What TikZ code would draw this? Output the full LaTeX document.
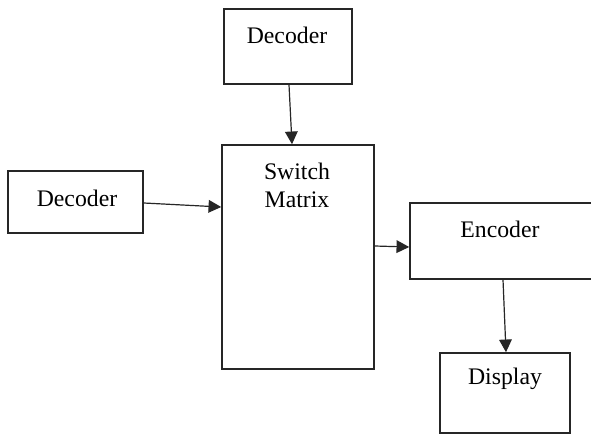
\documentclass[tikz,border=0pt]{standalone}
\usepackage{fontspec}
\setmainfont{Liberation Serif}
\usetikzlibrary{arrows.meta}
\tikzset{
  box/.style={draw=black!85, line width=1.2pt, rectangle, inner sep=0pt},
  txt/.style={inner sep=0pt, font=\fontsize{17.8}{21}\selectfont, align=center},
  conn/.style={draw=black!85, line width=0.9pt, -{Triangle[length=9.5pt,width=9.5pt]}}
}
\begin{document}
\begin{tikzpicture}[x=0.75pt,y=-0.75pt]
\useasboundingbox (0,0) rectangle (591,435);
\clip (0,0) rectangle (591,435);
\fill[white] (0,0) rectangle (591,435);
% boxes
\node[box, minimum width=96pt, minimum height=56.25pt] (dec1) at (288,46.5) {};
\node[box, minimum width=101.25pt, minimum height=46.5pt] (dec2) at (75.5,202) {};
\node[box, minimum width=114pt, minimum height=168pt] (sw) at (298,257) {};
\node[box, minimum width=142.5pt, minimum height=57pt] (enc) at (505,241) {};
\node[box, minimum width=97.5pt, minimum height=60pt] (disp) at (505,393) {};
% texts
\node[txt] (t1) at (287,35) {Decoder};
\node[txt] (t2) at (77,198) {Decoder};
\node[txt] (t3) at (297,185) {Switch\\Matrix};
\node[txt] (t4) at (500,229) {Encoder};
\node[txt] (t5) at (505,379) {Display};
% connectors
\draw[conn] ([xshift=0.75pt]dec1.south) -- ([xshift=-4.5pt]sw.north);
\draw[conn] ([yshift=-0.75pt]dec2.east) -- ([yshift=37.5pt]sw.west);
\draw[conn] ([yshift=8.25pt]sw.east) -- ([yshift=-4.5pt]enc.west);
\draw[conn] ([xshift=-1.5pt]enc.south) -- ([xshift=0.75pt]disp.north);
\end{tikzpicture}
\end{document}
